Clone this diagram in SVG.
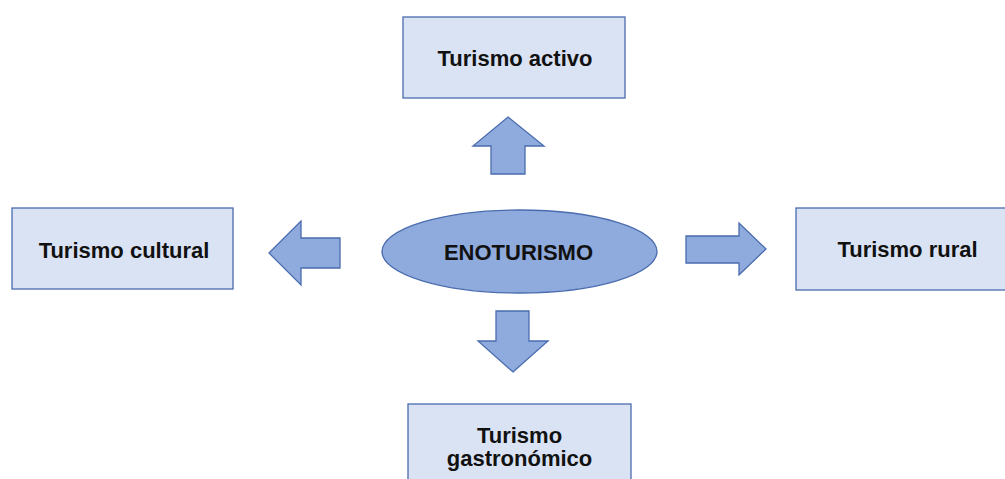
<svg xmlns="http://www.w3.org/2000/svg" width="1005" height="479" viewBox="0 0 1005 479">
<style>
.box{fill:#dae3f3;stroke:#4a6cae;stroke-width:1.3}
.ell{fill:#8faadc;stroke:#4a6cae;stroke-width:1.3}
.arr{fill:#8faadc;stroke:#4a6cae;stroke-width:1.3;stroke-linejoin:miter}
.t{font-family:"Liberation Sans",Arial,sans-serif;font-weight:bold;font-size:22px;fill:#111;text-anchor:middle}
</style>
<rect width="1005" height="479" fill="#ffffff"/>
<g id="connectors">
<polygon class="arr" points="508,117 544,146 525,146 525,174 491,174 491,146 473,146"/>
<polygon class="arr" points="269,253 301,221 301,238 340,238 340,268 301,268 301,285"/>
<polygon class="arr" points="766,249 739,223 739,236 686,236 686,263 739,263 739,275"/>
<polygon class="arr" points="513,372 548,341 529,341 529,311 496,311 496,341 478,341"/>
</g>
<g id="enoturismo">
<ellipse class="ell" cx="519.5" cy="251.5" rx="137.5" ry="41.5"/>
<text class="t" x="518.5" y="260">ENOTURISMO</text>
</g>
<g id="turismo-activo">
<rect class="box" x="403" y="17" width="222" height="81"/>
<text class="t" x="515" y="66">Turismo activo</text>
</g>
<g id="turismo-cultural">
<rect class="box" x="12" y="208" width="221" height="81"/>
<text class="t" x="124" y="258">Turismo cultural</text>
</g>
<g id="turismo-rural">
<rect class="box" x="796" y="208" width="222" height="82"/>
<text class="t" x="907.5" y="257">Turismo rural</text>
</g>
<g id="turismo-gastronomico">
<rect class="box" x="408" y="404" width="223" height="90"/>
<text class="t" x="519.5" y="443">Turismo</text>
<text class="t" x="519.5" y="466">gastronómico</text>
</g>
</svg>
